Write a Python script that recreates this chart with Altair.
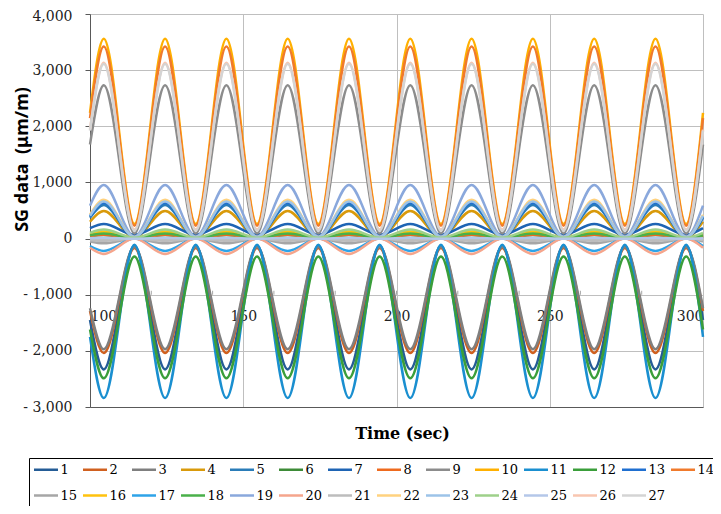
import altair as alt
import pandas as pd

# ---------------- data ----------------
SERIES = [str(i) for i in range(1, 28)]
COLORS = ["#245C96", "#D0601F", "#7F7F7F", "#D99A0B", "#2A7CB8", "#3D8B37",
          "#1E64B4", "#EE6A1E", "#8C8C8C", "#FFB000", "#1A8FD0", "#3A9E3A",
          "#1F6FD0", "#F07A2C", "#A6A6A6", "#FFC20E", "#2EA3E8", "#4AB04A",
          "#8AA8DC", "#F5A58C", "#BDBDBD", "#FFD27F", "#9CC3E8", "#9ED08A",
          "#B4C7E9", "#F8C6B0", "#D4D4D4"]
# value at the crest times (t = 104.5, 124.5, ...)
PEAK = [-2330, -2040, -1970, 490, 600, 65, 260, 70, 2730, 3557,
        -2840, -2490, 640, 3420, -85, 124, -220, 90, 953, -275,
        -40, 690, 660, 160, 15, 3130, 3110]
# value at the trough times (t = 114.5, 134.5, ...)
TROUGH = [-130, -170, -150, 20, 20, 5, 70, 10, 90, 260,
          -110, -320, 30, 230, 0, 10, 0, 10, 35, 0,
          0, 25, 25, 15, -5, 160, 140]
# value at the two edges (t = 100 and t = 300)
EDGE = [-1450, -1290, -1240, 300, 370, 40, 185, 45, 1675, 2240,
        -1750, -1620, 395, 2145, -51, 78, -132, 58, 586, -165,
        -24, 424, 406, 102, 7, 1942, 1922]
CREST_T = [104.5, 124.5, 144.5, 164.5, 184.5, 204.5, 224.5, 244.5, 264.5, 284.5]
TROUGH_T = [114.5, 134.5, 154.5, 174.5, 194.5, 214.5, 234.5, 254.5, 274.5, 294.5]
EDGE_T = [100, 300]
MINOR_T = [110, 120, 130, 140, 150, 160, 170, 180, 190, 200, 210, 220, 230,
           240, 250, 260, 270, 280, 290]
X_TICKS = [100, 150, 200, 250, 300]
Y_TICKS = [-3000, -2000, -1000, 0, 1000, 2000, 3000, 4000]

rows = []
for i, (s, p, tr, e) in enumerate(zip(SERIES, PEAK, TROUGH, EDGE)):
    for t in EDGE_T:
        rows.append({"series": s, "idx": i, "t": t, "v": e})
    for t in CREST_T:
        rows.append({"series": s, "idx": i, "t": t, "v": p})
    for t in TROUGH_T:
        rows.append({"series": s, "idx": i, "t": t, "v": tr})
df = pd.DataFrame(rows).sort_values(["idx", "t"]).reset_index(drop=True)
minor = pd.DataFrame({"t": MINOR_T, "v": [-1000] * len(MINOR_T)})

SERIF = "DejaVu Serif"
xscale = alt.Scale(domain=[100, 300], nice=False, zero=False)
yscale = alt.Scale(domain=[-3000, 4000], nice=False, zero=False)

lines = alt.Chart(df).mark_line(interpolate="monotone", strokeWidth=2.5).encode(
    x=alt.X("t:Q", scale=xscale, axis=alt.Axis(
        orient="bottom", values=X_TICKS, grid=True, gridColor="#BFBFBF",
        labels=False, ticks=False, tickSize=0, domain=True, domainColor="#595959",
        title="Time (sec)", titleFont=SERIF, titleFontWeight="bold",
        titleFontSize=16, titleColor="#000000", titleX=312, titleY=26,
        titleBaseline="middle")),
    y=alt.Y("v:Q", scale=yscale, axis=alt.Axis(
        values=Y_TICKS, grid=True, gridColor="#BFBFBF",
        labelExpr="datum.value < 0 ? '- ' + format(-datum.value, ',') : format(datum.value, ',')",
        labelFont=SERIF, labelFontSize=14, labelColor="#222222", labelPadding=13,
        labelOffset={"condition": {"test": "datum.value == 4000", "value": 2}, "value": 0},
        tickSize=5, tickColor="#595959", domainColor="#595959",
        title="SG data\u00a0 (\u03bcm/m)", titleFont="Noto Sans", titleFontWeight="bold",
        titleFontSize=18, titleColor="#000000", titleAngle=270, titleX=-68, titleY=145,
        titleAlign="center", titleBaseline="middle")),
    color=alt.Color("series:N", sort=SERIES,
                    scale=alt.Scale(domain=SERIES, range=COLORS),
                    legend=alt.Legend(
                        title=None, orient="none", legendX=-61, legendY=444,
                        direction="horizontal", columns=14, gridAlign="all",
                        symbolType="M-2.4,0H2.4", symbolSize=100,
                        symbolStrokeWidth=2.5, symbolOffset=5.5,
                        labelOffset=8, labelFont=SERIF, labelFontSize=13,
                        labelColor="#000000", columnPadding=0, rowPadding=12,
                        padding=5, strokeColor="#000000")),
)

ticks = alt.Chart(minor).mark_tick(orient="vertical", size=4, thickness=1,
                                   color="#7F7F7F", yOffset=-2).encode(
    x=alt.X("t:Q", scale=xscale, axis=alt.Axis(
        orient="bottom", offset=-113, values=X_TICKS, grid=False,
        labels=True, ticks=False, tickSize=0, domain=False,
        labelFont=SERIF, labelFontSize=14, labelColor="#222222",
        labelPadding=15, title=None)),
    y=alt.Y("v:Q", scale=yscale, axis=None),
)

chart = alt.layer(lines, ticks).resolve_axis(x="independent", y="independent").properties(
    width=613, height=393,
    autosize=alt.AutoSizeParams(type="none"),
    padding={"left": 82, "top": 6, "right": 10, "bottom": 99},
).configure_view(stroke=None)

chart.save("out.html", embed_options={"renderer": "svg", "actions": False})
